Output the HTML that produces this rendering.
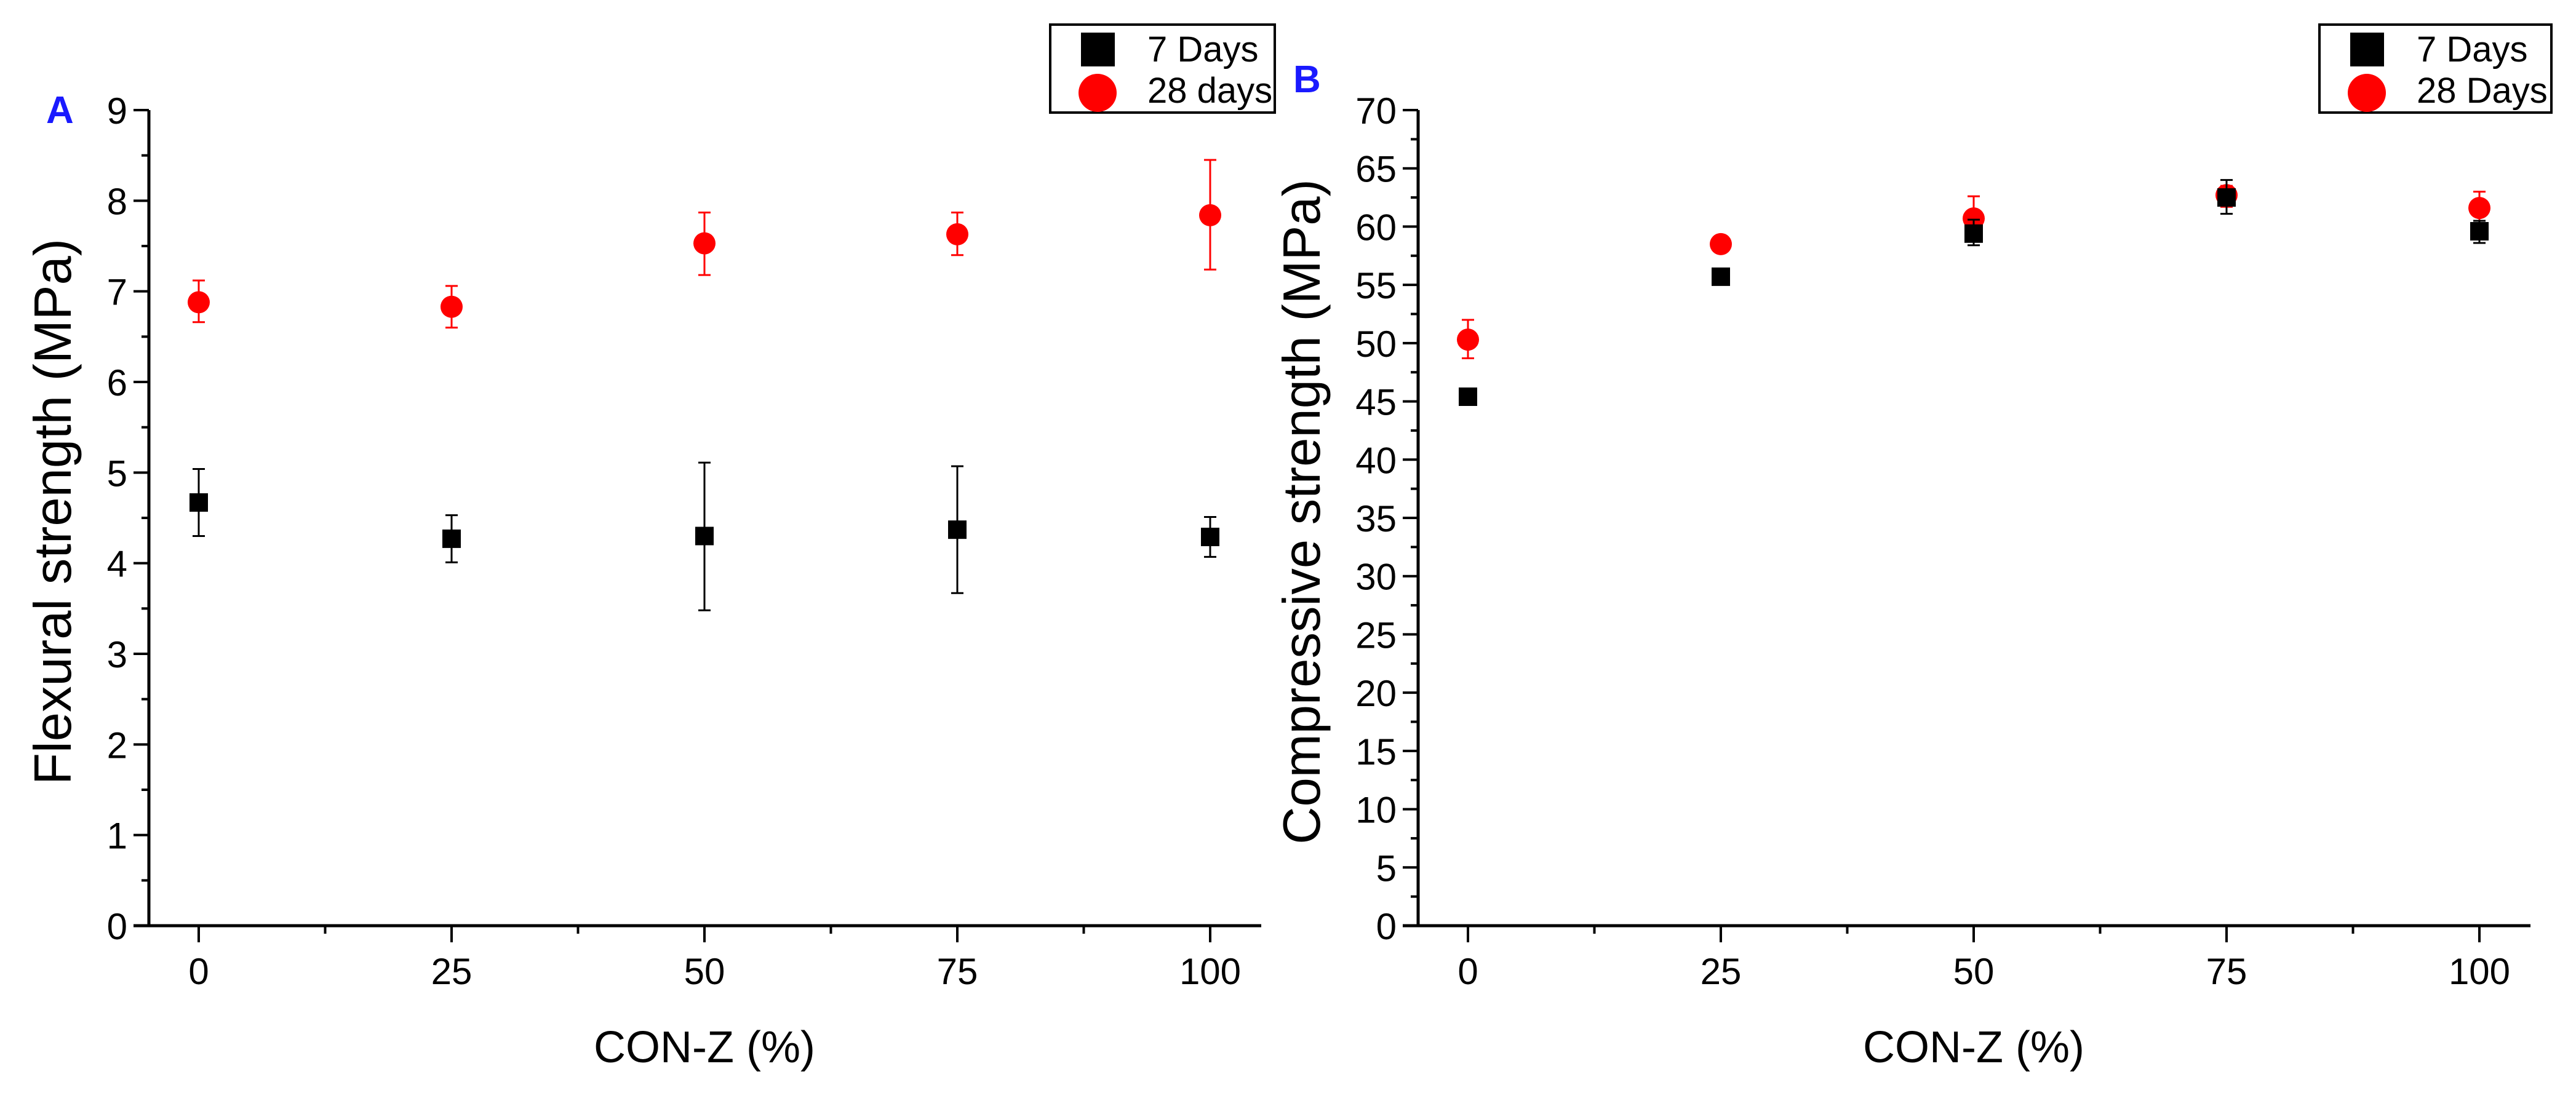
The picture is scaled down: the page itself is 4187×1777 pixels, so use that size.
<!DOCTYPE html>
<html><head><meta charset="utf-8"><style>
html,body{margin:0;padding:0;background:#fff;}
svg{display:block;font-family:"Liberation Sans",Arial,sans-serif;}
</style></head><body>
<svg id="fig" width="4187" height="1777" viewBox="0 0 4187 1777" xmlns="http://www.w3.org/2000/svg">
<rect width="4187" height="1777" fill="#fff"/>
<g id="pa"></g>
<g id="pb"></g>
</svg>
<script>
const categories = [0, 25, 50, 75, 100];
const flex7 = [4.67, 4.27, 4.30, 4.37, 4.29];
const flex7Lo = [4.30, 4.01, 3.48, 3.67, 4.07];
const flex7Hi = [5.04, 4.53, 5.11, 5.07, 4.51];
const flex28 = [6.88, 6.83, 7.53, 7.63, 7.84];
const flex28Lo = [6.66, 6.60, 7.18, 7.40, 7.24];
const flex28Hi = [7.12, 7.06, 7.87, 7.87, 8.45];
const comp7 = [45.4, 55.7, 59.4, 62.5, 59.6];
const comp7Lo = [45.1, 55.4, 58.4, 61.1, 58.6];
const comp7Hi = [45.7, 56.0, 60.6, 64.0, 60.5];
const comp28 = [50.3, 58.5, 60.7, 62.7, 61.6];
const comp28Lo = [48.7, 58.2, 59.2, 61.7, 60.3];
const comp28Hi = [52.0, 58.8, 62.6, 63.5, 63.0];
const flexTicks = [0,1,2,3,4,5,6,7,8,9];
const compTicks = [0,5,10,15,20,25,30,35,40,45,50,55,60,65,70];
const xTicks = [0,25,50,75,100];

const NS = "http://www.w3.org/2000/svg";
function mk(parent, tag, attrs, text){
  const e = document.createElementNS(NS, tag);
  for (const k in attrs) e.setAttribute(k, attrs[k]);
  if (text !== undefined) e.textContent = text;
  parent.appendChild(e);
  return e;
}

function panel(g, cfg){
  const x0 = cfg.yAxisX + 81, xs = 16.44;
  const X = v => x0 + v*xs;
  const yTop = 179, yBot = 1505;
  const Y = v => yBot - (v - cfg.ymin)/(cfg.ymax - cfg.ymin)*(yBot - yTop);
  let e = mk(g,'line',{x1:cfg.yAxisX-25,y1:yBot,x2:X(105.05),y2:yBot,stroke:'#000','stroke-width':5});
   
  e = mk(g,'line',{x1:cfg.yAxisX,y1:yTop,x2:cfg.yAxisX,y2:yBot+2,stroke:'#000','stroke-width':5});
   
  cfg.yticks.forEach((t,i)=>{
    const y = Y(t);
    let l = mk(g,'line',{x1:cfg.yAxisX-25,y1:y,x2:cfg.yAxisX,y2:y,stroke:'#000','stroke-width':4});
     
    let tx = mk(g,'text',{x:cfg.yAxisX-35,y:y+22,'font-size':60,'text-anchor':'end',fill:'#000'},String(t));
     
    if (i < cfg.yticks.length-1){
      const ym = Y(t + cfg.ystep/2);
      let m = mk(g,'line',{x1:cfg.yAxisX-12,y1:ym,x2:cfg.yAxisX,y2:ym,stroke:'#000','stroke-width':4});
       
    }
  });
  xTicks.forEach((t,i)=>{
    const x = X(t);
    let l = mk(g,'line',{x1:x,y1:yBot,x2:x,y2:yBot+27,stroke:'#000','stroke-width':4});
     
    let tx = mk(g,'text',{x:x,y:yBot+95,'font-size':60,'text-anchor':'middle',fill:'#000'},String(t));
     
    if (i < xTicks.length-1){
      const xm = X(t+12.5);
      let m = mk(g,'line',{x1:xm,y1:yBot,x2:xm,y2:yBot+13,stroke:'#000','stroke-width':4});
       
    }
  });
  let t = mk(g,'text',{x:X(50),y:1727,'font-size':72,'text-anchor':'middle',fill:'#000'},'CON-Z (%)');
   
  t = mk(g,'text',{x:0,y:0,'font-size':85,'text-anchor':'middle',fill:'#000',transform:`translate(${cfg.titleX},${cfg.titleY}) rotate(-90)`},cfg.ytitle);
   
  t = mk(g,'text',{x:cfg.letterX,y:cfg.letterY,'font-size':62,'font-weight':'bold',fill:'#1a1aff'},cfg.letter);
   
  const series = [
    {v:cfg.s28,lo:cfg.s28Lo,hi:cfg.s28Hi,color:'#ff0000',shape:'circle',name:'28-day'},
    {v:cfg.s7,lo:cfg.s7Lo,hi:cfg.s7Hi,color:'#000',shape:'square',name:'7-day'}
  ];
  series.forEach(s=>{
    categories.forEach((c,i)=>{
      const x = X(c);
      const eg = mk(g,'g',{stroke:s.color,'stroke-width':3});
       
      mk(eg,'line',{x1:x,y1:Y(s.lo[i]),x2:x,y2:Y(s.hi[i])});
      mk(eg,'line',{x1:x-10,y1:Y(s.lo[i]),x2:x+10,y2:Y(s.lo[i])});
      mk(eg,'line',{x1:x-10,y1:Y(s.hi[i]),x2:x+10,y2:Y(s.hi[i])});
      let p;
      if (s.shape==='circle') p = mk(g,'circle',{cx:x,cy:Y(s.v[i]),r:18,fill:s.color});
      else p = mk(g,'rect',{x:x-15,y:Y(s.v[i])-15,width:30,height:30,fill:s.color});
       
    });
  });
  const L = cfg.legX;
  const lg = mk(g,'g',{});
   
  mk(lg,'rect',{x:L,y:40,width:cfg.legW,height:143,fill:'#fff',stroke:'#000','stroke-width':4});
  let r = mk(lg,'rect',{x:L+50,y:53,width:55,height:55,fill:'#000'});
   
  r = mk(lg,'circle',{cx:L+77,cy:151,r:31,fill:'#ff0000'});
   
  r = mk(lg,'text',{x:L+158,y:100,'font-size':58,fill:'#000'},'7 Days');
   
  r = mk(lg,'text',{x:L+158,y:167,'font-size':58,fill:'#000'},cfg.leg28);
   
}

panel(document.getElementById('pa'),{
  yAxisX:242, ymin:0, ymax:9, ystep:1, yticks:flexTicks,
  s7:flex7,s7Lo:flex7Lo,s7Hi:flex7Hi,s28:flex28,s28Lo:flex28Lo,s28Hi:flex28Hi,
  ytitle:'Flexural strength (MPa)', titleX:115, titleY:832,
  letter:'A', letterX:75, letterY:200, legX:1707, legW:365, leg28:'28 days'
});
panel(document.getElementById('pb'),{
  yAxisX:2305, ymin:0, ymax:70, ystep:5, yticks:compTicks,
  s7:comp7,s7Lo:comp7Lo,s7Hi:comp7Hi,s28:comp28,s28Lo:comp28Lo,s28Hi:comp28Hi,
  ytitle:'Compressive strength (MPa)', titleX:2145, titleY:832,
  letter:'B', letterX:2102, letterY:150, legX:3770, legW:377, leg28:'28 Days'
});
</script>
</body></html>
